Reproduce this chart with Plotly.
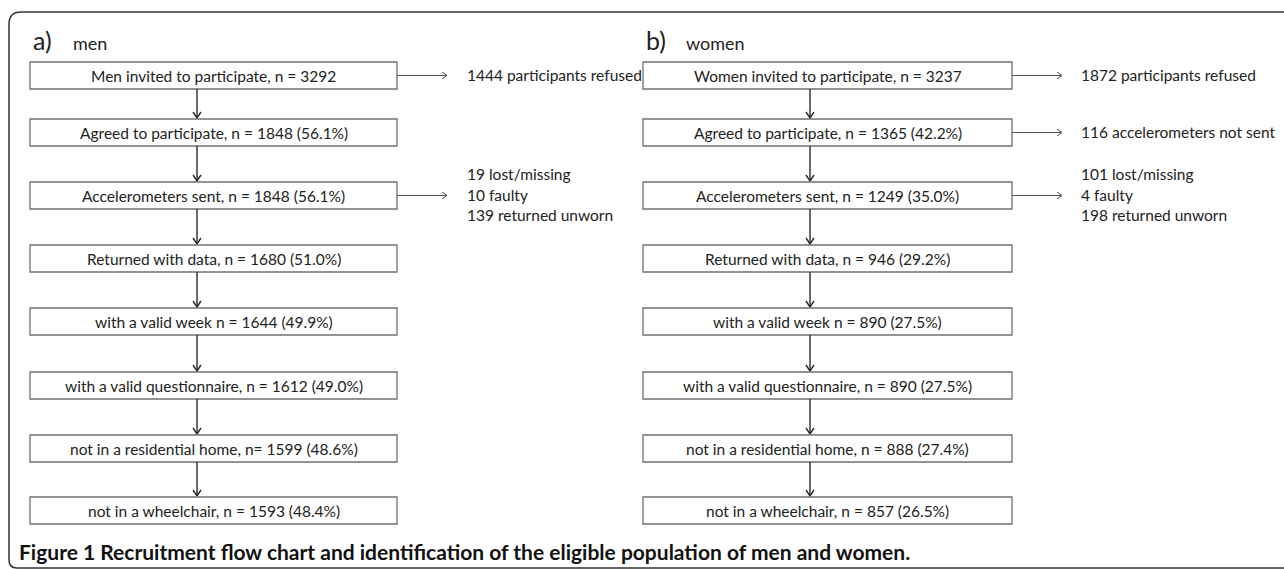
import plotly.graph_objects as go

# ---------------- data ----------------
panel_letters = ["a)", "b)"]
panel_names = ["men", "women"]

men_steps = [
    "Men invited to participate, n = 3292",
    "Agreed to participate, n = 1848 (56.1%)",
    "Accelerometers sent, n = 1848 (56.1%)",
    "Returned with data, n = 1680 (51.0%)",
    "with a valid week n = 1644 (49.9%)",
    "with a valid questionnaire, n = 1612 (49.0%)",
    "not in a residential home, n= 1599 (48.6%)",
    "not in a wheelchair, n = 1593 (48.4%)",
]
women_steps = [
    "Women invited to participate, n = 3237",
    "Agreed to participate, n = 1365 (42.2%)",
    "Accelerometers sent, n = 1249 (35.0%)",
    "Returned with data, n = 946 (29.2%)",
    "with a valid week n = 890 (27.5%)",
    "with a valid questionnaire, n = 890 (27.5%)",
    "not in a residential home, n = 888 (27.4%)",
    "not in a wheelchair, n = 857 (26.5%)",
]
# exclusions: step index -> lines of text
men_excluded = {
    0: ["1444 participants refused"],
    2: ["19 lost/missing", "10 faulty", "139 returned unworn"],
}
women_excluded = {
    0: ["1872 participants refused"],
    1: ["116 accelerometers not sent"],
    2: ["101 lost/missing", "4 faulty", "198 returned unworn"],
}
caption = ("<b>Figure 1 Recruitment flow chart and identification of the "
           "eligible population of men and women.</b>")

# ---------------- layout constants ----------------
W, H = 1284, 569
FONT = "Lato, 'Open Sans', sans-serif"
TXT = "#222222"
BOX_LINE = "#707070"
ROW_TOP = [62, 119, 182, 245, 308, 372, 435, 497]
BOX_H = 27
panels = [
    dict(x0=30, x1=397, arrow_x=197, side_x=465, steps=men_steps,
         excl=men_excluded, letter=panel_letters[0], name=panel_names[0]),
    dict(x0=643, x1=1012, arrow_x=810, side_x=1079, steps=women_steps,
         excl=women_excluded, letter=panel_letters[1], name=panel_names[1]),
]

fig = go.Figure()
shapes = []
annotations = []

# outer rounded frame
shapes.append(dict(
    type="path",
    path="M 1300,12 L 21,12 Q 9,12 9,24 L 9,560 Q 9,568 17,568 L 1300,568",
    line=dict(color="#333333", width=1.5), fillcolor="rgba(0,0,0,0)",
    xref="x", yref="y"))


def chevron_down(x, y):
    return dict(type="path", path=f"M {x-4},{y-6} L {x},{y} L {x+4},{y-6}",
                line=dict(color="#2a2a2a", width=1.4), xref="x", yref="y")


def chevron_right(x, y):
    return dict(type="path", path=f"M {x-5},{y-3.5} L {x},{y} L {x-5},{y+3.5}",
                line=dict(color="#555555", width=1), xref="x", yref="y")


for p in panels:
    # panel title
    annotations.append(dict(x=p["x0"] + 1, y=40, text=p["letter"], showarrow=False,
                            xanchor="left", yanchor="middle",
                            font=dict(family=FONT, size=25, color=TXT)))
    annotations.append(dict(x=p["x0"] + 41, y=43, text=p["name"], showarrow=False,
                            xanchor="left", yanchor="middle",
                            font=dict(family=FONT, size=18, color=TXT)))
    n = len(p["steps"])
    for i, label in enumerate(p["steps"]):
        top = ROW_TOP[i]
        bot = top + BOX_H
        cy = top + BOX_H / 2
        shapes.append(dict(type="rect", x0=p["x0"], x1=p["x1"], y0=top, y1=bot,
                           line=dict(color=BOX_LINE, width=1.3),
                           fillcolor="white", xref="x", yref="y"))
        annotations.append(dict(x=(p["x0"] + p["x1"]) / 2, y=cy + 0.5, text=label,
                                showarrow=False, xanchor="center", yanchor="middle",
                                font=dict(family=FONT, size=15.5, color=TXT)))
        # vertical arrow to the next box
        if i < n - 1:
            nt = ROW_TOP[i + 1]
            shapes.append(dict(type="line", x0=p["arrow_x"], x1=p["arrow_x"],
                               y0=bot, y1=nt - 1,
                               line=dict(color="#2a2a2a", width=1.4),
                               xref="x", yref="y"))
            shapes.append(chevron_down(p["arrow_x"], nt - 1))
        # exclusion arrow + text
        if i in p["excl"]:
            lines = p["excl"][i]
            shapes.append(dict(type="line", x0=p["x1"], x1=p["x1"] + 50,
                               y0=cy, y1=cy, line=dict(color="#555555", width=1),
                               xref="x", yref="y"))
            shapes.append(chevron_right(p["x1"] + 50, cy))
            k = len(lines)
            for j, t in enumerate(lines):
                ty = cy + (j - (k - 1) / 2) * 20.5 - 1
                annotations.append(dict(x=p["side_x"], y=ty, text=t, showarrow=False,
                                        xanchor="left", yanchor="middle",
                                        font=dict(family=FONT, size=15.5, color=TXT)))

# caption
annotations.append(dict(x=17, y=551, text=caption, showarrow=False,
                        xanchor="left", yanchor="middle",
                        font=dict(family=FONT, size=21, color="#111111")))

fig.update_layout(
    width=W, height=H,
    margin=dict(l=0, r=0, t=0, b=0),
    paper_bgcolor="white", plot_bgcolor="white",
    xaxis=dict(range=[0, W], visible=False, fixedrange=True),
    yaxis=dict(range=[H, 0], visible=False, fixedrange=True),
    shapes=shapes, annotations=annotations, showlegend=False,
)
fig.write_html(
    "out.html",
    config={"displayModeBar": False},
    post_script="document.body.style.margin='0';document.body.style.overflow='hidden';",
)
